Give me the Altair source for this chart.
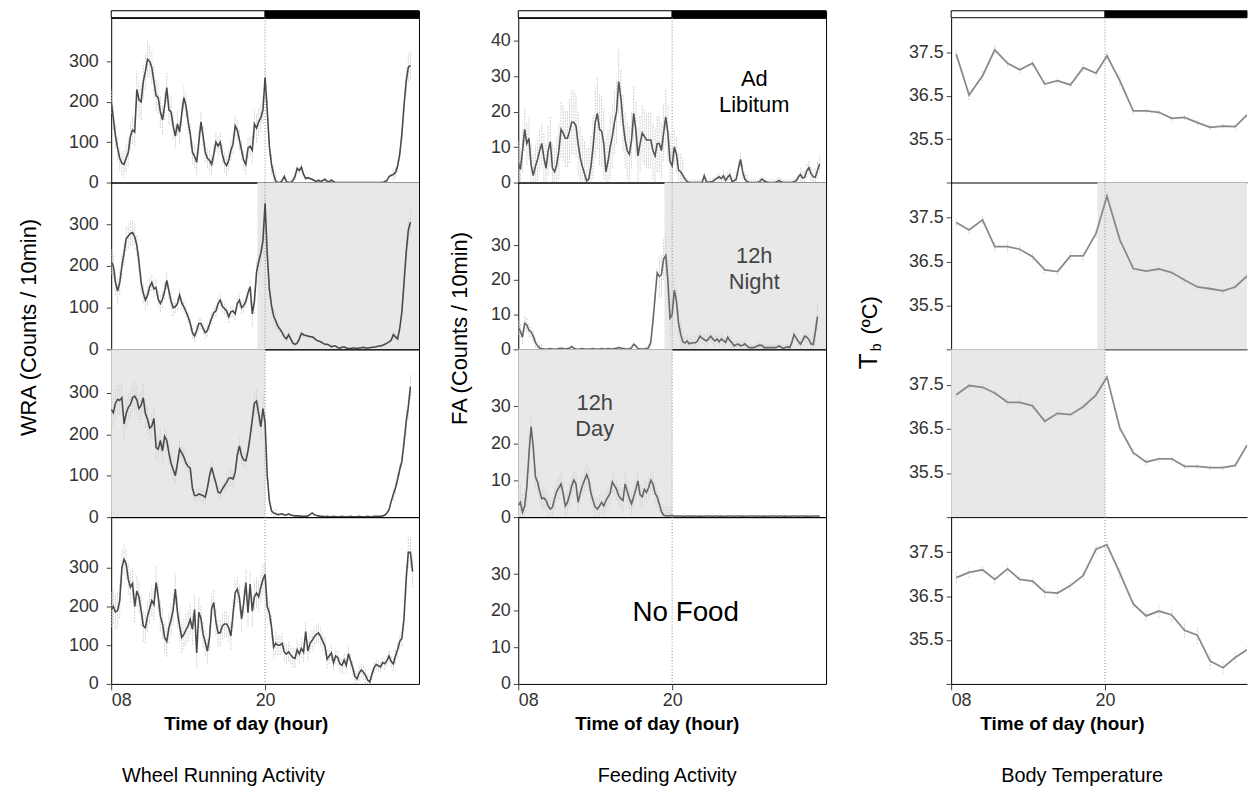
import altair as alt
import pandas as pd

FONT = "Liberation Sans"

# light / dark schedule (hours of day, 32 = 08 next day)
LIGHT = [8, 20]
DARK = [20, 32]

# ---------------- Wheel running activity (counts / 10 min), 10-min bins from 08:00 ----------------
WRA_P1 = [200,160,115,85,60,48,45,60,75,115,
          130,125,230,205,200,250,275,305,300,285,
          250,215,210,175,155,190,235,180,175,140,
          115,145,125,170,210,190,150,120,75,65,
          50,100,150,115,75,60,55,45,70,100,
          90,100,70,50,42,55,80,95,140,130,
          105,80,55,45,85,90,80,145,135,150,
          160,180,260,180,90,45,20,3,0,0,
          5,15,2,0,0,5,15,35,30,38,
          20,10,12,10,8,5,3,6,2,5,
          8,3,2,6,2,0,0,0,0,0,
          0,0,0,0,0,0,0,0,0,0,
          0,0,0,0,0,0,0,0,2,5,
          15,18,20,25,40,70,120,190,250,285,290]
WRA_P2 = [210,200,160,140,160,200,230,265,272,278,
          280,270,250,210,160,135,118,130,150,160,
          145,148,120,110,120,140,165,140,115,100,
          102,110,130,112,102,90,78,62,40,32,
          45,62,62,50,40,45,60,75,88,92,
          110,118,103,98,92,78,90,92,85,110,
          118,100,105,115,135,150,85,115,185,210,
          230,260,350,230,145,105,80,68,55,48,
          40,30,25,35,25,15,12,15,25,38,
          35,33,32,30,30,27,22,20,18,15,
          12,12,10,6,8,8,4,3,5,6,
          3,2,2,3,3,2,3,4,5,3,
          3,4,5,5,6,8,8,10,12,15,
          18,22,35,30,25,50,90,160,230,285,305]
WRA_P3 = [260,252,275,284,282,288,225,250,265,272,
          288,292,283,262,270,288,250,236,215,220,
          238,168,164,185,160,195,185,155,130,115,
          100,130,164,155,145,130,122,118,70,52,
          52,56,54,52,48,70,100,120,100,82,
          60,58,68,76,84,94,95,92,108,150,
          172,148,138,136,160,195,235,275,280,250,
          218,262,228,100,40,15,10,8,6,7,
          8,5,5,8,5,4,3,3,3,2,
          2,2,3,6,10,6,4,3,2,2,
          1,2,1,1,2,1,1,1,2,1,
          1,1,2,1,1,1,2,1,1,1,
          2,1,1,2,2,2,2,3,5,10,
          18,38,55,70,92,115,135,180,230,265,315]
WRA_P4 = [192,200,186,190,215,300,322,310,270,250,
          260,200,240,225,190,150,145,175,195,215,
          205,262,226,175,155,120,110,145,165,192,
          245,185,150,120,128,140,150,167,141,192,
          80,185,170,128,108,85,120,195,210,160,
          132,132,150,155,155,145,124,180,235,245,
          222,168,209,262,184,258,188,225,235,225,
          250,270,283,200,184,148,95,105,100,100,
          105,82,77,83,75,68,66,88,77,92,
          82,135,85,105,112,122,128,132,122,110,
          98,64,72,80,55,72,68,52,48,62,
          48,78,60,42,20,13,28,36,30,22,
          10,5,25,42,50,47,44,55,52,60,
          72,58,52,72,88,110,118,170,270,340,340,290]
# hourly SEM (08 ... 07)
WRA_E1 = [30,35,45,40,35,30,30,25,25,25,25,35,25,8,8,4,2,1,1,1,1,4,15,35]
WRA_E2 = [30,30,25,20,20,15,15,15,15,15,15,30,20,8,6,5,3,2,2,2,2,4,10,30]
WRA_E3 = [35,35,35,30,25,20,15,15,15,20,20,30,10,3,2,2,1,1,1,1,1,2,15,30]
WRA_E4 = [45,40,40,40,40,40,40,35,35,35,35,40,30,25,25,25,25,20,20,20,15,15,20,40]

# ---------------- Feeding activity (counts / 10 min) ----------------
FA_P1 = [5.5,3.7,9,15,11,12.5,5,2,4.5,6.5,
         9,11,7,4,9,11.5,4,3,5,9,
         15,14,12.5,12.5,14.5,17,17,16,11,7,
         4.5,2.5,0.5,1,4.5,10,17,19.5,15,14.5,
         11,3,6,10,13,17,20,28.5,24,17,
         12,9,8,12,19.5,15,7.5,11,14,13,
         12,12,12,9,7.5,11,11,9,14,18.5,
         14,6,4.7,10,8,3.5,3,2,1,0.3,
         0,0,0,0,0,0,0,1.9,0.3,0,
         0.2,0.3,0.8,1.2,1.6,1.1,1.9,0.6,1.5,2.2,
         0.3,0.5,1,4,6.5,3,1,0.3,0,0,
         0,0,0,0.3,1,0.5,0.2,0,0,0,
         0,0.2,0.6,0.2,0,0,0,0,0,0.2,
         0.5,1.5,2.3,1.3,1.5,3.3,4.2,2.5,1.6,1.5,3.5,5.2]
FA_P2 = [6.2,5.2,3.5,7.5,7,5.5,5,3.8,2,1,
         0.4,0.2,0.1,0,0.1,0.2,0.1,0,0.1,0.2,
         0.3,0.2,0.1,0.2,0.4,0.8,0.3,0.1,0,0.1,
         0.2,0.1,0,0.1,0.1,0.2,0.1,0,0.1,0.2,
         0.1,0.1,0.2,0.1,0.1,0.2,0.3,0.5,0.4,0.2,
         0.1,0.1,0.1,0.5,1.5,1,0.2,0.1,0.1,0.1,
         0.2,0.5,2,8,15,22,21,21.5,26,27,
         20,9,10,17,14,7.5,4.3,2.2,1.8,2.4,
         1.6,1.8,1.9,1.9,2.5,3.8,3.2,2.8,2.4,3,
         3.8,3,2.4,3,2.2,3,2.5,2,3.5,2.5,
         1.9,1,1.4,1.5,1,1.2,1.6,1,0.5,0.5,
         0.5,0.7,1,1.2,1.1,0.5,0.5,0.5,0.5,0.5,
         0.5,0.6,1,0.6,0.3,0.5,0.7,0.5,2,4.3,
         3.3,2.3,1.5,2.5,3.8,3.5,2.8,1.6,1.4,5,9.5]
FA_P3 = [3.1,4,1.3,3,8,17,24.5,19,11,9.5,
         7,5,5.2,4.5,3,2.2,2.7,5,7,8,
         9,6.5,3,4,6,8.5,10,9,4,6.5,
         8.5,10,11.5,10,6.5,4.5,2.7,2.2,3,4,
         3,4.5,5.5,6.5,9.5,8.5,7.5,5.8,5,4.5,
         9,7,5,3.6,5.5,7.5,9.8,6,5.5,7.5,
         6.7,8,10,9,6.5,5.5,3.5,1.5,0.5,0.4,
         0.3,0.4,0.4,0.3,0.3,0.3,0.3,0.2,0.2,0.3,
         0.3,0.2,0.3,0.3,0.2,0.3,0.2,0.2,0.3,0.3,
         0.3,0.2,0.3,0.3,0.2,0.3,0.2,0.2,0.3,0.3,
         0.3,0.2,0.3,0.3,0.2,0.3,0.2,0.2,0.3,0.3,
         0.3,0.2,0.3,0.3,0.2,0.3,0.2,0.2,0.3,0.3,
         0.3,0.2,0.3,0.3,0.2,0.3,0.2,0.2,0.3,0.3,
         0.3,0.2,0.3,0.3,0.2,0.3,0.2,0.2,0.3,0.3,0.3,0.2]
FA_E1 = [6,6,7,8,9,9,10,9,8,8,8,8,5,1,1,1,1.5,2,1,1,1,1,2,2.5]
FA_E2 = [2,1.5,0.3,0.3,0.3,0.3,0.3,0.5,0.5,0.5,1,6,4,2,1.5,1.5,1.5,1,1,1,1,1,1.5,4]
FA_E3 = [5,3,3,3,3,3,3,3,3,3,3,2.5,0.3,0.2,0.2,0.2,0.2,0.2,0.2,0.2,0.2,0.2,0.2,0.2]

# ---------------- Body temperature (deg C), hourly ----------------
TB_HOURS = [8.4,9.4,10.45,11.4,12.4,13.35,14.35,15.3,16.3,17.3,18.3,19.3,
            20.15,21.15,22.2,23.2,24.2,25.2,26.2,27.2,28.2,29.2,30.15,31.1]
TB_P1 = [37.46,36.52,36.96,37.56,37.25,37.1,37.25,36.77,36.85,36.75,37.15,37.02,
         37.42,36.85,36.15,36.15,36.12,35.98,36.0,35.88,35.77,35.8,35.79,36.06]
TB_P2 = [37.39,37.22,37.45,36.84,36.84,36.78,36.61,36.31,36.27,36.63,36.63,37.14,
         37.99,37.0,36.34,36.28,36.33,36.25,36.08,35.92,35.88,35.83,35.92,36.17]
TB_P3 = [37.27,37.48,37.44,37.31,37.1,37.1,37.02,36.67,36.85,36.82,37.0,37.27,
         37.67,36.52,35.96,35.75,35.82,35.82,35.65,35.65,35.62,35.62,35.67,36.13]
TB_P4 = [36.92,37.04,37.1,36.88,37.12,36.88,36.84,36.59,36.57,36.74,36.97,37.57,
         37.67,37.03,36.32,36.05,36.16,36.07,35.72,35.61,35.02,34.87,35.1,35.28]
TB_E1 = [0.1,0.12,0.12,0.1,0.08,0.08,0.08,0.08,0.08,0.08,0.1,0.1,0.1,0.12,0.06,0.06,0.06,0.06,0.06,0.06,0.06,0.06,0.06,0.08]
TB_E2 = [0.08,0.08,0.1,0.12,0.12,0.1,0.1,0.08,0.08,0.1,0.1,0.1,0.08,0.1,0.08,0.08,0.1,0.1,0.08,0.06,0.06,0.06,0.06,0.08]
TB_E3 = [0.08,0.08,0.08,0.1,0.08,0.12,0.08,0.1,0.08,0.08,0.08,0.08,0.08,0.08,0.08,0.08,0.08,0.08,0.06,0.06,0.06,0.06,0.06,0.08]
TB_E4 = [0.12,0.12,0.1,0.12,0.1,0.1,0.08,0.12,0.12,0.1,0.1,0.1,0.1,0.12,0.1,0.12,0.15,0.18,0.18,0.2,0.18,0.15,0.12,0.1]

# condition shading (hours)
NIGHT_FEED = [19.4, 32]
DAY_FEED = [8, 20]


def bin_frame(vals, err):
    rows = []
    for i, v in enumerate(vals):
        e = err[min(i // 6, len(err) - 1)]
        rows.append({"t": 8 + i / 6, "v": v, "lo": max(0.0, v - e), "hi": v + e})
    return pd.DataFrame(rows)


def tb_frame(vals, err):
    return pd.DataFrame({"t": TB_HOURS, "v": vals,
                         "lo": [v - e for v, e in zip(vals, err)],
                         "hi": [v + e for v, e in zip(vals, err)]})


def ptext(txt, x, y, size, angle=0, align="center", baseline="middle", weight="normal", color="black"):
    return alt.Chart(pd.DataFrame({"txt": [txt]})).mark_text(
        font=FONT, fontSize=size, angle=angle, align=align, baseline=baseline,
        fontWeight=weight, color=color).encode(x=alt.value(x), y=alt.value(y), text="txt:N")


def panel(width, height, xdom, clipped, ydom, yvals, ylabel_expr, label_pad, data=None,
          line_color="#4a4a4a", line_width=1.6, err_color="#d2d2d2", shade=None, bottom=False,
          ann=None, extra=()):
    xs = alt.Scale(domain=xdom, nice=False, zero=False, clamp=clipped)
    ys = alt.Scale(domain=ydom, nice=False, zero=False)
    yaxis = alt.Axis(values=yvals, labelExpr=ylabel_expr, title=None, grid=False, labelFontSize=18,
                     labelFont=FONT, labelColor="#333333", tickColor="#444444", tickSize=5,
                     labelPadding=label_pad, domain=clipped, domainColor="black", labelOverlap=False)
    if bottom:
        xaxis = alt.Axis(values=[8, 20], labelExpr="datum.value == 8 ? '08' : '20'", labelFlush=True,
                         title=None, grid=False, labelFontSize=18, labelFont=FONT, labelColor="#333333",
                         tickColor="#444444", tickSize=6, labelPadding=2, domain=clipped, domainColor="black")
    elif clipped:
        xaxis = alt.Axis(labels=False, ticks=False, title=None, grid=False, domainColor="black")
    else:
        xaxis = None

    def X(field):
        return alt.X(field, scale=xs, axis=xaxis)

    def Y(field):
        return alt.Y(field, scale=ys, axis=yaxis)

    layers = []
    if shade:
        layers.append(alt.Chart(pd.DataFrame({"s": [shade[0]], "e": [shade[1]]})).mark_rect(
            color="#e8e8e8").encode(x=X("s:Q"), x2="e:Q"))
    if data is not None:
        layers.append(alt.Chart(data).mark_rule(color=err_color, strokeWidth=1, strokeDash=[2, 1],
                                                clip=True).encode(x=X("t:Q"), y=Y("lo:Q"), y2="hi:Q"))
    layers.append(alt.Chart(pd.DataFrame({"t": [20]})).mark_rule(
        color="#8a8a8a", strokeDash=[1, 2], strokeWidth=1).encode(x=X("t:Q")))
    if data is not None:
        layers.append(alt.Chart(data).mark_line(color=line_color, strokeWidth=line_width, clip=True).encode(
            x=X("t:Q"), y=Y("v:Q")))
    if ann is not None:
        txt, ax, ay, size, color = ann
        layers.append(alt.Chart(pd.DataFrame({"x": [ax], "y": [ay], "txt": [txt]})).mark_text(
            font=FONT, fontSize=size, color=color, lineBreak="\n", lineHeight=size + 4,
            align="center", baseline="middle").encode(x=X("x:Q"), y=Y("y:Q"), text="txt:N"))
    layers.extend(extra)
    ch = alt.layer(*layers).properties(width=width, height=height)
    if clipped:
        ch = ch.properties(view=alt.ViewBackground(stroke="transparent"))
    return ch


def ld_bar(width, xdom, clipped):
    xs = alt.Scale(domain=xdom, nice=False, zero=False, clamp=clipped)
    df = pd.DataFrame({"s": [LIGHT[0], DARK[0]], "e": [LIGHT[1], DARK[1]], "c": ["white", "black"]})
    ch = alt.Chart(df).mark_rect(stroke="black", strokeWidth=1).encode(
        x=alt.X("s:Q", scale=xs, axis=None), x2="e:Q",
        color=alt.Color("c:N", scale=None, legend=None)).properties(width=width, height=7)
    if clipped:
        ch = ch.properties(view=alt.ViewBackground(stroke="transparent"))
    return ch


H = [166, 168, 169, 168]
W = 310
W3 = 298
XD = [8, 32]
XD3 = [8, 8 + W3 * 24 / W]
TITLE_Y = 208   # below bottom panel top
CAP_Y = 261

# ---------- column 1 : WRA ----------
wra_lbl = "format(datum.value, 'd')"
wv = [0, 100, 200, 300]
c1 = alt.vconcat(
    ld_bar(W, XD, False),
    panel(W, H[0], XD, False, [0, 408], wv, wra_lbl, 8, bin_frame(WRA_P1, WRA_E1)),
    panel(W, H[1], XD, False, [0, 400], wv, wra_lbl, 8, bin_frame(WRA_P2, WRA_E2), shade=NIGHT_FEED,
          extra=[ptext("WRA (Counts / 10min)", -76, 146, 22, angle=270, baseline="alphabetic")]),
    panel(W, H[2], XD, False, [0, 405], wv, wra_lbl, 8, bin_frame(WRA_P3, WRA_E3), shade=DAY_FEED),
    panel(W, H[3], XD, False, [0, 431], wv, wra_lbl, 8, bin_frame(WRA_P4, WRA_E4), bottom=True,
          extra=[ptext("Time of day (hour)", 136, TITLE_Y, 19, weight="bold"),
                 ptext("Wheel Running Activity", 113, CAP_Y, 20)]),
    spacing=0, bounds="flush")

# ---------- column 2 : FA ----------
fa_lbl = "format(datum.value, 'd')"
c2 = alt.vconcat(
    ld_bar(W, XD, False),
    panel(W, H[0], XD, False, [0, 46.5], [0, 10, 20, 30, 40], fa_lbl, 3, bin_frame(FA_P1, FA_E1),
          line_color="#555555", ann=("Ad\nLibitum", 26.4, 29.1, 22, "black")),
    panel(W, H[1], XD, False, [0, 48], [0, 10, 20, 30], fa_lbl, 3, bin_frame(FA_P2, FA_E2),
          line_color="#666666", shade=NIGHT_FEED, ann=("12h\nNight", 26.4, 26.7, 22, "#444444"),
          extra=[ptext("FA (Counts / 10min)", -52, 147, 22, angle=270, baseline="alphabetic")]),
    panel(W, H[2], XD, False, [0, 45.4], [0, 10, 20, 30], fa_lbl, 3, bin_frame(FA_P3, FA_E3),
          line_color="#666666", shade=DAY_FEED, ann=("12h\nDay", 13.96, 30.9, 22, "#444444")),
    panel(W, H[3], XD, False, [0, 45.6], [0, 10, 20, 30], fa_lbl, 3, None, bottom=True,
          ann=("No Food", 21.06, 19.4, 28, "black"),
          extra=[ptext("Time of day (hour)", 140, TITLE_Y, 19, weight="bold"),
                 ptext("Feeding Activity", 150, CAP_Y, 20)]),
    spacing=0, bounds="flush")

# ---------- column 3 : Tb ----------
tb_lbl = "datum.value < 35 ? '' : format(datum.value, '.1f')"
tv = [34.5, 35.5, 36.5, 37.5]
TD = [34.5, 38.3]
tb_kw = dict(line_color="#8a8a8a", line_width=1.8, err_color="#d6d6d6")
c3 = alt.vconcat(
    ld_bar(W3, XD3, True),
    panel(W3, H[0], XD3, True, TD, tv, tb_lbl, 3, tb_frame(TB_P1, TB_E1), **tb_kw),
    panel(W3, H[1], XD3, True, TD, tv, tb_lbl, 3, tb_frame(TB_P2, TB_E2), shade=NIGHT_FEED,
          extra=[ptext("T", -75, 188, 26, angle=270, align="left", baseline="alphabetic"),
                 ptext("b", -71, 170, 14, angle=270, align="left", baseline="alphabetic"),
                 ptext("(ºC)", -75, 153, 22, angle=270, align="left", baseline="alphabetic")],
          **tb_kw),
    panel(W3, H[2], XD3, True, TD, tv, tb_lbl, 3, tb_frame(TB_P3, TB_E3), shade=DAY_FEED, **tb_kw),
    panel(W3, H[3], XD3, True, TD, tv, tb_lbl, 3, tb_frame(TB_P4, TB_E4), bottom=True,
          extra=[ptext("Time of day (hour)", 112, TITLE_Y, 19, weight="bold"),
                 ptext("Body Temperature", 132, CAP_Y, 20)],
          **tb_kw),
    spacing=0, bounds="flush")

chart = alt.hconcat(c1, c2, c3, spacing=28).properties(
    padding={"left": 17, "top": 7, "right": 0, "bottom": 0},
    background="white",
).configure(font=FONT).configure_view(stroke="black", strokeWidth=1)

chart.save("out.html", embed_options={"renderer": "svg", "actions": False})
